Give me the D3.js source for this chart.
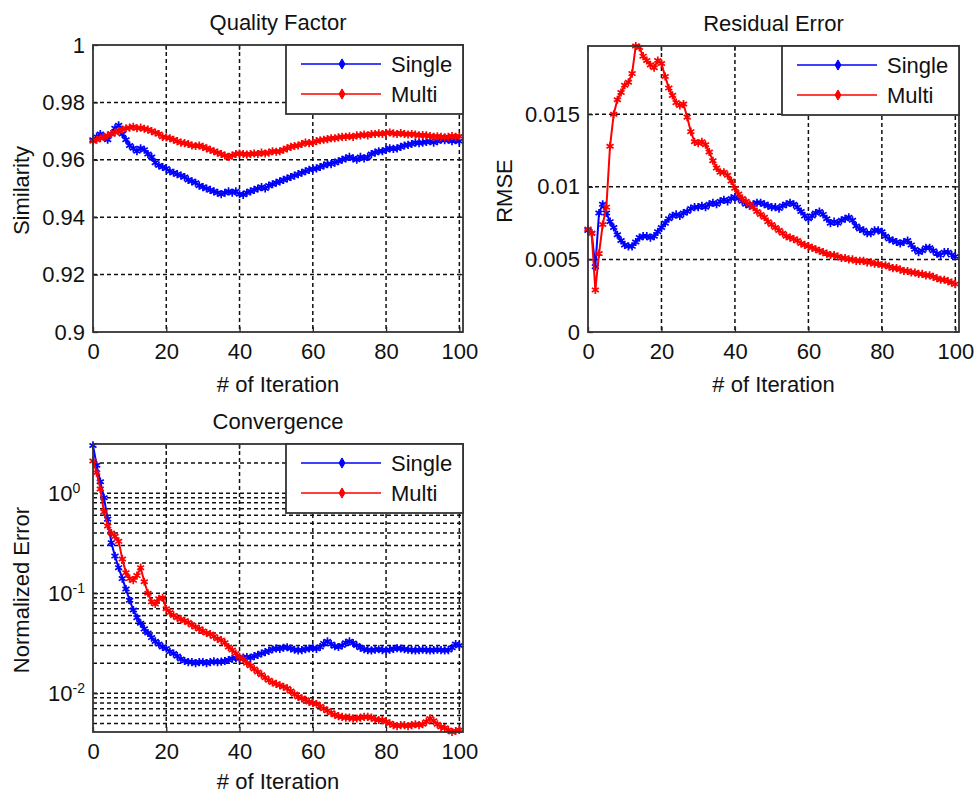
<!DOCTYPE html>
<html>
<head>
<meta charset="utf-8">
<script src="https://cdn.jsdelivr.net/npm/d3@7"></script>
<style>
  body { margin: 0; background: #fff; }
  svg { display: block; }
  text { font-family: "Liberation Sans", Arial, sans-serif; fill: #111; }
</style>
</head>
<body>
<svg id="fig" width="975" height="796"></svg>
<script>
// ---- Tick values and labels ----
const iterTicks = [0, 20, 40, 60, 80, 100];
const qualityTicks = [0.9, 0.92, 0.94, 0.96, 0.98, 1];
const rmseTicks = [0, 0.005, 0.01, 0.015];
const convTicks = [1, 0.1, 0.01];
const convExponents = ["0", "-1", "-2"];
const seriesNames = ["Single", "Multi"];
const seriesColors = ["#0000ff", "#ff0000"];

// ---- Quality factor (similarity) per iteration 0..100 ----
const qualitySingle = [
  0.967, 0.968, 0.969, 0.968, 0.967, 0.969, 0.971, 0.972, 0.969, 0.967,
  0.965, 0.964, 0.963, 0.964, 0.9635, 0.962, 0.961, 0.959, 0.958, 0.9575,
  0.957, 0.956, 0.9555, 0.955, 0.9545, 0.954, 0.953, 0.9525, 0.952, 0.951,
  0.9505, 0.950, 0.9495, 0.949, 0.9485, 0.948, 0.9485, 0.949, 0.9485, 0.949,
  0.948, 0.9478, 0.9485, 0.949, 0.9495, 0.950, 0.9505, 0.950, 0.951, 0.9515,
  0.952, 0.9525, 0.953, 0.9535, 0.954, 0.9545, 0.955, 0.9555, 0.956, 0.9565,
  0.9568, 0.957, 0.9575, 0.958, 0.9585, 0.9585, 0.959, 0.9595, 0.960, 0.9605,
  0.961, 0.9605, 0.960, 0.961, 0.9605, 0.961, 0.962, 0.9625, 0.963, 0.963,
  0.9635, 0.964, 0.9638, 0.964, 0.9645, 0.965, 0.9652, 0.9655, 0.966, 0.9658,
  0.966, 0.9662, 0.9665, 0.966, 0.9665, 0.967, 0.9668, 0.967, 0.9665, 0.9668,
  0.9665
];
const qualityMulti = [
  0.9665, 0.967, 0.9675, 0.968, 0.9685, 0.969, 0.9695, 0.970, 0.9705, 0.971,
  0.9712, 0.9715, 0.971, 0.9712, 0.9708, 0.9705, 0.970, 0.9695, 0.969, 0.968,
  0.9678, 0.9675, 0.967, 0.9665, 0.966, 0.9658, 0.9655, 0.965, 0.9648, 0.965,
  0.9645, 0.964, 0.9635, 0.963, 0.9625, 0.962, 0.9615, 0.961, 0.9615, 0.962,
  0.9622, 0.962, 0.9618, 0.962, 0.9622, 0.962, 0.9625, 0.9622, 0.9625, 0.963,
  0.9628, 0.963, 0.9635, 0.964, 0.9645, 0.9648, 0.965, 0.9655, 0.966, 0.9658,
  0.966, 0.9665, 0.9668, 0.967, 0.9672, 0.9675, 0.9675, 0.9678, 0.968, 0.968,
  0.9682, 0.968, 0.9685, 0.9685, 0.9688, 0.9685, 0.969, 0.969, 0.9692, 0.969,
  0.9693, 0.9695, 0.9692, 0.969, 0.9693, 0.969, 0.9688, 0.969, 0.9688, 0.9685,
  0.9686, 0.9685, 0.9683, 0.968, 0.9682, 0.968, 0.9678, 0.968, 0.9683, 0.968,
  0.9682
];

// ---- Residual error (RMSE) per iteration 0..100 ----
const rmseSingle = [
  0.0070, 0.0068, 0.0045, 0.0082, 0.0088, 0.0082, 0.0076, 0.0072, 0.0067, 0.0063,
  0.0060, 0.0059, 0.0059, 0.0062, 0.0065, 0.0066, 0.0066, 0.0065, 0.0066, 0.0069,
  0.0072, 0.0075, 0.0078, 0.0080, 0.0081, 0.0080, 0.0082, 0.0083, 0.0085, 0.0086,
  0.0086, 0.0087, 0.0086, 0.0088, 0.0089, 0.0088, 0.0090, 0.0091, 0.0090, 0.0092,
  0.0093, 0.0092, 0.0090, 0.0088, 0.0087, 0.0088, 0.0089, 0.0089, 0.0088, 0.0087,
  0.0086, 0.0086, 0.0085, 0.0087, 0.0088, 0.0089, 0.0088, 0.0086, 0.0083, 0.0080,
  0.0078, 0.0080, 0.0082, 0.0083, 0.0081, 0.0078, 0.0075, 0.0076, 0.0075, 0.0077,
  0.0078, 0.0079, 0.0077, 0.0073, 0.0071, 0.0070, 0.0068, 0.0068, 0.0070, 0.0070,
  0.0069, 0.0066, 0.0064, 0.0063, 0.0062, 0.0061, 0.0062, 0.0063, 0.0060, 0.0057,
  0.0055, 0.0056, 0.0058, 0.0058, 0.0056, 0.0054, 0.0053, 0.0055, 0.0055, 0.0053,
  0.0052
];
const rmseMulti = [
  0.0071, 0.0068, 0.0029, 0.0054, 0.0074, 0.0086, 0.0128, 0.0150, 0.0160, 0.0165,
  0.0170, 0.0172, 0.0178, 0.0197, 0.0196, 0.0190, 0.0187, 0.0184, 0.0182, 0.0187,
  0.0185, 0.0176, 0.0168, 0.0163, 0.0158, 0.0156, 0.0157, 0.0148, 0.0138, 0.0131,
  0.0130, 0.0131, 0.0129, 0.0124, 0.0118, 0.0113, 0.0110, 0.0110, 0.0108, 0.0104,
  0.0099, 0.0095, 0.0092, 0.0090, 0.0088, 0.0086, 0.0083, 0.0081, 0.0079, 0.0076,
  0.0074, 0.0072, 0.0070, 0.0068, 0.0066, 0.0065, 0.0064, 0.0063, 0.0061, 0.0060,
  0.0059, 0.0058, 0.0057, 0.0056, 0.0055, 0.0054, 0.0053, 0.0053, 0.0052, 0.0051,
  0.0051, 0.0050, 0.0050, 0.0049, 0.0049, 0.0049, 0.0048, 0.0048, 0.0047, 0.0047,
  0.0046, 0.0046, 0.0045, 0.0044, 0.0044, 0.0043, 0.0042, 0.0042, 0.0041, 0.0041,
  0.0040, 0.0040, 0.0039, 0.0039, 0.0038, 0.0037, 0.0036, 0.0036, 0.0035, 0.0034,
  0.0033
];

// ---- Convergence (normalized error, log scale) per iteration 0..100 ----
const convSingle = [
  3.0, 1.9, 1.3, 0.9, 0.55, 0.32, 0.235, 0.18, 0.14, 0.11,
  0.085, 0.068, 0.057, 0.050, 0.044, 0.040, 0.036, 0.033, 0.031, 0.029,
  0.028, 0.026, 0.025, 0.0235, 0.022, 0.021, 0.0205, 0.0205, 0.0200, 0.0205,
  0.0205, 0.0200, 0.0205, 0.0208, 0.0205, 0.0207, 0.0210, 0.0215, 0.0222, 0.0225,
  0.0222, 0.0228, 0.0230, 0.0226, 0.0235, 0.0242, 0.0250, 0.0258, 0.0265, 0.0275,
  0.0280, 0.0278, 0.0285, 0.0288, 0.0280, 0.0272, 0.0268, 0.0270, 0.0275, 0.0280,
  0.0282, 0.0278, 0.0290, 0.0315, 0.0330, 0.0310, 0.0295, 0.0290, 0.0300, 0.0320,
  0.0330, 0.0318, 0.0300, 0.0285, 0.0275, 0.0270, 0.0268, 0.0272, 0.0275, 0.0270,
  0.0268, 0.0272, 0.0278, 0.0282, 0.0280, 0.0275, 0.0272, 0.0270, 0.0268, 0.0270,
  0.0272, 0.0270, 0.0268, 0.0270, 0.0272, 0.0270, 0.0268, 0.0270, 0.0285, 0.0310,
  0.0300
];
const convMulti = [
  2.1, 1.6, 1.1, 0.65, 0.47, 0.40, 0.37, 0.33, 0.22, 0.16,
  0.14, 0.135, 0.15, 0.18, 0.13, 0.10, 0.082, 0.078, 0.088, 0.090,
  0.070, 0.064, 0.060, 0.057, 0.055, 0.053, 0.051, 0.048, 0.046, 0.044,
  0.042, 0.040, 0.039, 0.037, 0.035, 0.034, 0.032, 0.029, 0.027, 0.025,
  0.023, 0.022, 0.020, 0.0188, 0.0175, 0.0163, 0.0153, 0.0143, 0.0135, 0.0128,
  0.0124, 0.0120, 0.0116, 0.0112, 0.0105, 0.0098, 0.0092, 0.0089, 0.0086, 0.0082,
  0.0080, 0.0078, 0.0074, 0.0070, 0.0067, 0.0064, 0.0061, 0.0059, 0.0058, 0.0057,
  0.0057, 0.0056, 0.0056, 0.0057, 0.0058, 0.0058, 0.0057, 0.0055, 0.0054, 0.0054,
  0.0052, 0.0050, 0.0048, 0.0047, 0.0048, 0.0048, 0.0047, 0.0048, 0.0049, 0.0048,
  0.0049, 0.0052, 0.0056, 0.0053, 0.0049, 0.0046, 0.0045, 0.0043, 0.0041, 0.0042,
  0.0043
];

// ---- Panel layout ----
const panels = [
  {
    title: "Quality Factor", ylabel: "Similarity",
    series: [qualitySingle, qualityMulti],
    box: { l: 93, r: 463, t: 45, b: 332 },
    log: false, yDomain: [0.9, 1], yTicks: qualityTicks,
    titleY: 30, xlabelY: 392, ylabelX: 29
  },
  {
    title: "Residual Error", ylabel: "RMSE",
    series: [rmseSingle, rmseMulti],
    box: { l: 588, r: 959, t: 46, b: 332 },
    log: false, yDomain: [0, 0.0197], yTicks: rmseTicks,
    titleY: 31, xlabelY: 392, ylabelX: 512
  },
  {
    title: "Convergence", ylabel: "Normalized Error",
    series: [convSingle, convMulti],
    box: { l: 93, r: 463, t: 444, b: 732 },
    log: true, yDomain: [0.0041, 3.1], yTicks: convTicks,
    titleY: 429, xlabelY: 789, ylabelX: 29
  }
];

const svg = d3.select("#fig");
const FONT = 22;
const marker = d3.symbol(d3.symbolAsterisk, 46);
const legendMarker = d3.symbol(d3.symbolDiamond, 30);

function drawPanel(p) {
  const { l, r, t, b } = p.box;
  const g = svg.append("g");
  const x = d3.scaleLinear().domain([0, 101]).range([l, r]);
  const y = (p.log ? d3.scaleLog() : d3.scaleLinear()).domain(p.yDomain).range([b, t]);

  // dashed grid
  const grid = g.append("g")
    .attr("stroke", "#111").attr("stroke-width", 1.5)
    .attr("stroke-dasharray", "4,3").attr("fill", "none");
  const yGrid = (p.log ? y.ticks() : p.yTicks)
    .filter(v => y(v) > t + 2 && y(v) < b - 2);
  grid.selectAll("line.h").data(yGrid).join("line")
    .attr("class", "h")
    .attr("x1", l).attr("x2", r)
    .attr("y1", d => y(d)).attr("y2", d => y(d));
  grid.selectAll("line.v").data(iterTicks.filter(v => x(v) > l + 2)).join("line")
    .attr("class", "v")
    .attr("y1", t).attr("y2", b)
    .attr("x1", d => x(d)).attr("x2", d => x(d));

  // axes (inward ticks, labels outside)
  const xAxis = d3.axisBottom(x).tickValues(iterTicks)
    .tickSizeInner(-5).tickSizeOuter(0).tickPadding(11)
    .tickFormat(d3.format("d"));
  const gx = g.append("g").attr("transform", `translate(0,${b})`).call(xAxis);
  gx.select(".domain").remove();

  const yAxis = d3.axisLeft(y).tickValues(p.yTicks)
    .tickSizeInner(-5).tickSizeOuter(0).tickPadding(8)
    .tickFormat(p.log ? () => "10" : d => String(d));
  const gy = g.append("g").attr("transform", `translate(${l},0)`).call(yAxis);
  gy.select(".domain").remove();

  [gx, gy].forEach(a => {
    a.selectAll(".tick line").attr("stroke", "#222").attr("stroke-width", 1.3);
    a.selectAll(".tick text")
      .attr("font-size", FONT)
      .attr("font-family", '"Liberation Sans", Arial, sans-serif')
      .attr("fill", "#111");
  });

  if (p.log) {
    gy.selectAll(".tick text")
      .attr("text-anchor", "start")
      .attr("x", -45)
      .each(function (d, i) {
        d3.select(this).append("tspan")
          .attr("dy", "-0.55em")
          .attr("font-size", 14)
          .text(convExponents[i]);
      });
  }

  // top / right ticks
  const tk = g.append("g").attr("stroke", "#222").attr("stroke-width", 1.3);
  tk.selectAll("line.tt").data(iterTicks).join("line")
    .attr("x1", d => x(d)).attr("x2", d => x(d)).attr("y1", t).attr("y2", t + 5);
  tk.selectAll("line.rt").data(p.yTicks).join("line")
    .attr("y1", d => y(d)).attr("y2", d => y(d)).attr("x1", r).attr("x2", r - 5);

  // data: line + asterisk markers at each iteration
  p.series.forEach((vals, si) => {
    const col = seriesColors[si];
    const line = d3.line().x((d, i) => x(i)).y(d => y(d));
    g.append("path").datum(vals)
      .attr("d", line)
      .attr("fill", "none").attr("stroke", col).attr("stroke-width", 2);
    g.append("g").selectAll("path").data(vals).join("path")
      .attr("transform", (d, i) => `translate(${x(i)},${y(d)})`)
      .attr("d", marker)
      .attr("fill", "none").attr("stroke", col).attr("stroke-width", 1.7);
  });

  // frame
  g.append("rect")
    .attr("x", l).attr("y", t).attr("width", r - l).attr("height", b - t)
    .attr("fill", "none").attr("stroke", "#333").attr("stroke-width", 1.8);

  // legend
  const lw = 177, lh = 69;
  const lg = g.append("g").attr("transform", `translate(${r - lw},${t})`);
  lg.append("rect").attr("width", lw).attr("height", lh)
    .attr("fill", "#fff").attr("stroke", "#333").attr("stroke-width", 1.8);
  seriesNames.forEach((name, si) => {
    const ly = 19 + si * 30;
    lg.append("line").attr("x1", 15).attr("x2", 95).attr("y1", ly).attr("y2", ly)
      .attr("stroke", seriesColors[si]).attr("stroke-width", 1.6);
    lg.append("path").attr("transform", `translate(56,${ly})`)
      .attr("d", legendMarker).attr("fill", seriesColors[si])
      .attr("stroke", seriesColors[si]).attr("stroke-width", 1);
    lg.append("text").attr("x", 105).attr("y", ly + 8)
      .attr("font-size", FONT).text(name);
  });

  // titles and axis labels
  const cx = (l + r) / 2;
  g.append("text").attr("x", cx).attr("y", p.titleY)
    .attr("text-anchor", "middle").attr("font-size", FONT).text(p.title);
  g.append("text").attr("x", cx).attr("y", p.xlabelY)
    .attr("text-anchor", "middle").attr("font-size", FONT).text("# of Iteration");
  g.append("text")
    .attr("transform", `translate(${p.ylabelX},${(t + b) / 2 + 2}) rotate(-90)`)
    .attr("text-anchor", "middle").attr("font-size", FONT).text(p.ylabel);
}

panels.forEach(drawPanel);
</script>
</body>
</html>
